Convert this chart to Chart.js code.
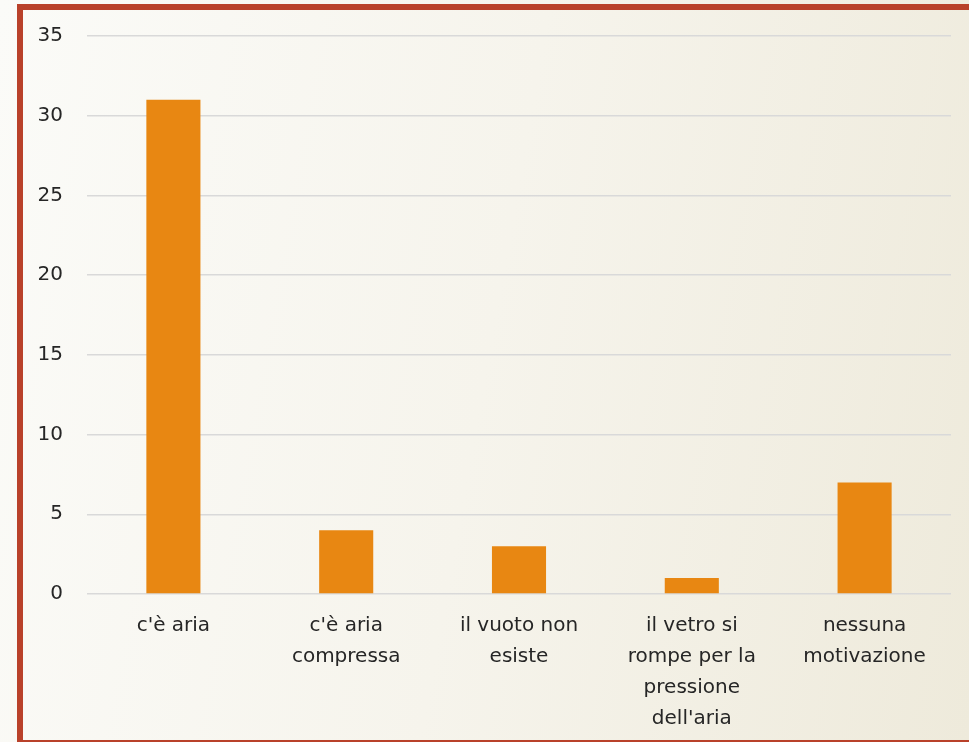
<!DOCTYPE html>
<html>
<head>
<meta charset="utf-8">
<script src="https://cdn.jsdelivr.net/npm/chart.js@4"></script>
<style>
  html, body { margin: 0; padding: 0; }
  body {
    width: 969px; height: 742px; overflow: hidden; position: relative;
    background: linear-gradient(100deg, #fbfbf8 0%, #f6f4ec 50%, #eeeadb 100%);
  }
  #frame {
    position: absolute; left: 17px; top: 4px; width: 980px; height: 730px;
    border: 6px solid #b9412a; border-right: none; box-sizing: content-box;
  }
  #wrap { position: absolute; left: 0; top: 0; width: 969px; height: 742px; }
</style>
</head>
<body>
<div id="frame"></div>
<div id="wrap"><canvas id="c" width="969" height="742"></canvas></div>
<script>
const categories = [
  ["c'è aria"],
  ["c'è aria", "compressa"],
  ["il vuoto non", "esiste"],
  ["il vetro si", "rompe per la", "pressione", "dell'aria"],
  ["nessuna", "motivazione"]
];
const values = [31, 4, 3, 1, 7];
const yTicks = [0, 5, 10, 15, 20, 25, 30, 35];

const fontFamily = "'DejaVu Sans', sans-serif";

new Chart(document.getElementById('c'), {
  type: 'bar',
  data: {
    labels: categories,
    datasets: [{
      data: values,
      backgroundColor: '#e88712',
      borderWidth: 0,
      categoryPercentage: 1,
      barPercentage: 0.313
    }]
  },
  options: {
    responsive: false,
    animation: false,
    layout: { padding: { top: 36, right: 18, bottom: 0, left: 0 } },
    plugins: { legend: { display: false }, tooltip: { enabled: false } },
    scales: {
      x: {
        grid: { display: false, drawTicks: false },
        border: { display: false },
        ticks: {
          color: '#262626',
          font: { family: fontFamily, size: 20, lineHeight: '31px' },
          padding: 16,
          maxRotation: 0,
          autoSkip: false
        },
        afterFit: (s) => { s.height = 148; }
      },
      y: {
        min: 0, max: 35,
        afterBuildTicks: (s) => { s.ticks = yTicks.map(v => ({ value: v })); },
        grid: { color: '#d9d9d9', lineWidth: 1.5, drawTicks: false },
        border: { display: false },
        ticks: {
          color: '#262626',
          font: { family: fontFamily, size: 20 },
          padding: 24
        },
        afterFit: (s) => { s.width = 87; }
      }
    }
  }
});
</script>
</body>
</html>
